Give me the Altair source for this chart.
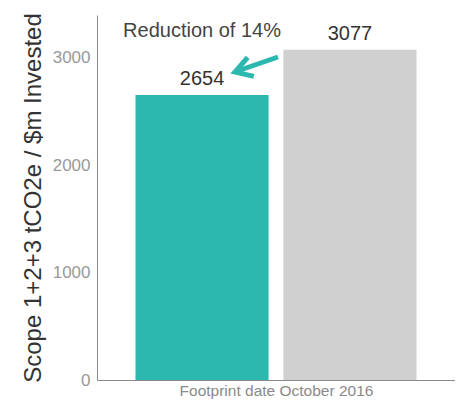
import altair as alt
import pandas as pd

categories = ["Current", "Previous"]
values = [2654, 3077]
colors = ["#2DB8AF", "#D0D0D0"]
y_ticks = [0, 1000, 2000, 3000]

FONT = "Liberation Sans"

df = pd.DataFrame({"cat": categories, "value": values, "color": colors})

x_enc = alt.X("cat:N", sort=categories,
              scale=alt.Scale(paddingInner=0.1, paddingOuter=0.26),
              axis=alt.Axis(labels=False, ticks=False, domainColor="#8a8a8a",
                            title="Footprint date October 2016", titleFontWeight="normal",
                            titleFont=FONT, titleFontSize=15.5, titleColor="#8a8a8a",
                            titlePadding=3))
y_enc = alt.Y("value:Q", scale=alt.Scale(domain=[0, 3400], nice=False),
              axis=alt.Axis(values=y_ticks, format="d", ticks=False, grid=False,
                            domainColor="#8a8a8a",
                            labelFont=FONT, labelFontSize=17, labelColor="#999999",
                            labelPadding=7,
                            title="Scope 1+2+3 tCO2e / $m Invested", titleFont=FONT,
                            titleFontWeight="normal", titleFontSize=24, titleColor="#333333",
                            titlePadding=7))

bars = alt.Chart(df).mark_bar().encode(
    x=x_enc, y=y_enc, color=alt.Color("color:N", scale=None)
)

labels = alt.Chart(df).mark_text(dy=-16, font=FONT, fontSize=20, color="#333333").encode(
    x=alt.X("cat:N", sort=categories), y="value:Q", text="value:Q"
)

note_df = pd.DataFrame({"cat": ["Current"], "value": [3250], "txt": ["Reduction of 14%"]})
note = alt.Chart(note_df).mark_text(font=FONT, fontSize=20, color="#444444", baseline="middle").encode(
    x=alt.X("cat:N", sort=categories), y="value:Q", text="txt:N"
)

arrow_line = alt.Chart(note_df).mark_rule(color="#2DB8AF", strokeWidth=5).encode(
    x=alt.value(181), x2=alt.value(139), y=alt.value(42), y2=alt.value(56.5)
)
arrow_head = alt.Chart(note_df).mark_point(
    shape="M 1 -0.6 L 0 0 L 1 0.6", filled=False, color="#2DB8AF",
    strokeWidth=5, size=1100, angle=342, opacity=1
).encode(x=alt.value(138), y=alt.value(57))

chart = alt.layer(bars, labels, note, arrow_line, arrow_head).properties(
    width=358, height=365,
    autosize=alt.AutoSizeParams(type="none"),
    padding={"left": 89, "top": 7, "right": 0, "bottom": 19}
).configure_view(stroke=None)

chart.save("out.html", embed_options={"renderer": "svg", "actions": False})
